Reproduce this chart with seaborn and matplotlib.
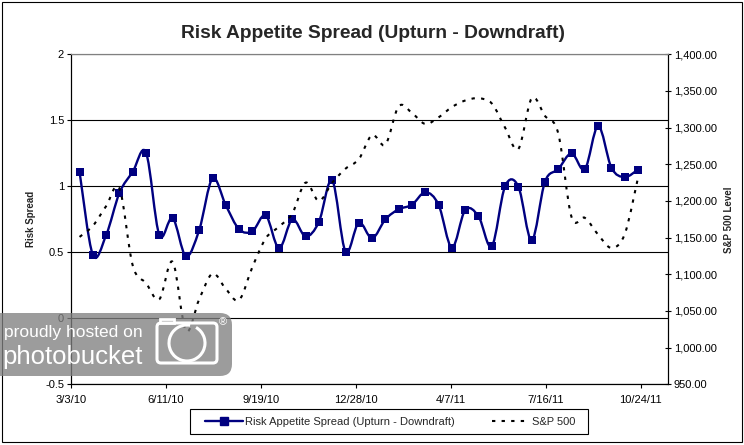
import numpy as np
import pandas as pd
import matplotlib
matplotlib.use('Agg')
import matplotlib.pyplot as plt
import matplotlib.dates as mdates
from matplotlib.path import Path
from matplotlib.patches import PathPatch, FancyBboxPatch, Rectangle, Arc
from matplotlib.lines import Line2D
from matplotlib.ticker import FuncFormatter, MultipleLocator
import seaborn as sns

sns.set_style('white')
plt.rcParams['font.family'] = ['Liberation Sans', 'DejaVu Sans']

# biweekly observations, 3/12/10 .. 10/21/11
dates = pd.date_range('2010-03-12', periods=43, freq='14D')
spread = [1.11, 0.48, 0.63, 0.95, 1.11, 1.255, 0.63, 0.76, 0.47, 0.67,
          1.06, 0.856, 0.674, 0.66, 0.78, 0.53, 0.75, 0.62, 0.73, 1.045,
          0.505, 0.725, 0.606, 0.75, 0.826, 0.86, 0.955, 0.86, 0.535, 0.82,
          0.773, 0.545, 1.0, 0.998, 0.59, 1.035, 1.13, 1.25, 1.13, 1.457,
          1.14, 1.07, 1.127]
sp500 = [1151, 1166, 1193, 1217, 1112, 1088, 1066, 1117, 1023, 1066,
         1101, 1080, 1065, 1110, 1149, 1165, 1183, 1225, 1200, 1225,
         1244, 1257, 1290, 1277, 1329, 1320, 1305, 1314, 1328, 1337,
         1340, 1333, 1300, 1271, 1340, 1316, 1292, 1178, 1177, 1154,
         1136, 1155, 1232]
x_ticks = pd.date_range('2010-03-03', periods=7, freq='100D')
x_start, x_end = '2010-03-03', '2011-11-21'
spread_label = 'Risk Appetite Spread (Upturn - Downdraft)'
sp_label = 'S&P 500'

df = pd.DataFrame({'date': dates, 'spread': spread, 'sp500': sp500})

navy = '#000080'
W, H = 744, 445


def smooth_path(x, y):
    # Excel-like smoothed line: cubic bezier through the points
    pts = np.column_stack([x, y]).astype(float)
    n = len(pts)
    verts = [pts[0]]
    codes = [Path.MOVETO]
    for i in range(n - 1):
        p0 = pts[max(i - 1, 0)]
        p1 = pts[i]
        p2 = pts[i + 1]
        p3 = pts[min(i + 2, n - 1)]
        verts += [p1 + (p2 - p0) / 6, p2 - (p3 - p1) / 6, p2]
        codes += [Path.CURVE4] * 3
    return Path(verts, codes)


fig = plt.figure(figsize=(W / 100, H / 100), dpi=100)
ax = fig.add_axes([71 / W, (H - 384.3) / H, (667.5 - 71) / W, 330 / H])
ax2 = ax.twinx()

xnum = mdates.date2num(df['date'])
ax.add_patch(PathPatch(smooth_path(xnum, df['spread']), fc='none', ec=navy,
                       lw=1.7, zorder=3))
sns.scatterplot(data=df, x='date', y='spread', ax=ax, marker='s', s=30,
                color=navy, edgecolor=navy, linewidth=0, zorder=4, legend=False)
dash = (0, (1.6, 3.0))
ax2.add_patch(PathPatch(smooth_path(xnum, df['sp500']), fc='none', ec='black',
                        lw=1.5, linestyle=dash, zorder=3))

ax.set_xlim(mdates.date2num(pd.Timestamp(x_start)), mdates.date2num(pd.Timestamp(x_end)))
ax.set_ylim(-0.5, 2)
ax.yaxis.set_major_locator(MultipleLocator(0.5))
ax.yaxis.set_major_formatter(FuncFormatter(lambda v, _: f'{v:g}'))
ax.set_xticks(mdates.date2num(x_ticks))
ax.xaxis.set_major_formatter(FuncFormatter(
    lambda v, _: (lambda d: f'{d.month}/{d.day}/{d:%y}')(mdates.num2date(v))))
ax.set_xlabel('')
ax.set_ylabel('Risk Spread', fontsize=7, fontweight='bold')
ax.yaxis.set_label_coords(-0.058, 0.5)

ax2.set_ylim(950, 1400)
ax2.yaxis.set_major_locator(MultipleLocator(50))
ax2.yaxis.set_major_formatter(FuncFormatter(lambda v, _: f'{v:,.2f}'))
ax2.set_ylabel('S&P 500 Level', fontsize=7, fontweight='bold', rotation=90)
ax2.yaxis.set_label_coords(1.0955, 0.5)

ax.grid(axis='y', color='black', lw=0.8)
ax.grid(axis='x', visible=False)
ax.set_axisbelow(True)

for a in (ax, ax2):
    for s in ('left', 'right', 'bottom'):
        a.spines[s].set_color('black')
        a.spines[s].set_linewidth(0.8)
    a.spines['top'].set_color('#808080')
    a.spines['top'].set_linewidth(0.8)

ax.tick_params(axis='y', direction='out', length=3, width=0.8, pad=2,
               labelsize=8, colors='black', left=True)
ax.tick_params(axis='x', direction='out', length=3, width=0.8, pad=5,
               labelsize=8, colors='black', bottom=True)
ax2.tick_params(axis='y', direction='inout', length=5, width=0.8, pad=2,
                labelsize=8, colors='black', right=True)

fig.text(372.9 / W, 1 - 33 / H, 'Risk Appetite Spread (Upturn - Downdraft)',
         ha='center', va='center', fontsize=13.8, fontweight='bold')

# legend with its own square box
px = fig.dpi_scale_trans
box = Rectangle((190 / 100, (H - 434.3) / 100), 398 / 100, 25 / 100,
                transform=px, fc='white', ec='black', lw=0.8)
fig.add_artist(box)
handles = [Line2D([], [], color=navy, lw=1.7, marker='s', ms=5.5),
           Line2D([], [], color='black', lw=1.5, linestyle=dash)]
fig.legend(handles, [spread_label, sp_label], loc='center',
           bbox_to_anchor=(390 / W, 1 - 421.8 / H), ncol=2, frameon=False,
           fontsize=8, handlelength=3.4, handletextpad=0.2, columnspacing=3.3)

# chart border
fig.add_artist(Rectangle((2 / 100, 3.5 / 100), 739.5 / 100, 439.5 / 100,
                         transform=px, fc='none', ec='black', lw=0.8))

# hosting watermark
fig.add_artist(FancyBboxPatch((-20 / 100, (H - 376) / 100), 252 / 100, 63 / 100,
                              boxstyle='round,pad=0,rounding_size=0.12',
                              transform=px, fc='#808080', ec='none', alpha=0.78,
                              zorder=10))
fig.text(4 / W, 1 - 332.5 / H, 'proudly hosted on', color='white', fontsize=12.5,
         ha='left', va='center', zorder=11)
fig.text(2 / W, 1 - 357 / H, 'photobucket', color='white', fontsize=18.5,
         ha='left', va='center', zorder=11)
fig.add_artist(FancyBboxPatch((157 / 100, (H - 363) / 100), 60 / 100, 40 / 100,
                              boxstyle='round,pad=0,rounding_size=0.04',
                              transform=px, fc='none', ec='white', lw=2.2,
                              zorder=11))
fig.add_artist(Rectangle((160 / 100, (H - 323) / 100), 14 / 100, 4 / 100,
                         transform=px, fc='none', ec='white', lw=2, zorder=11))
fig.add_artist(Arc((187 / 100, (H - 343) / 100), 36 / 100, 36 / 100,
                   theta1=80, theta2=420, transform=px, ec='white', lw=2.2,
                   zorder=11))
fig.text(223 / W, 1 - 322 / H, '\u00ae', color='white', fontsize=8,
         ha='center', va='center', zorder=11)

fig.savefig('out.png', dpi=100)
